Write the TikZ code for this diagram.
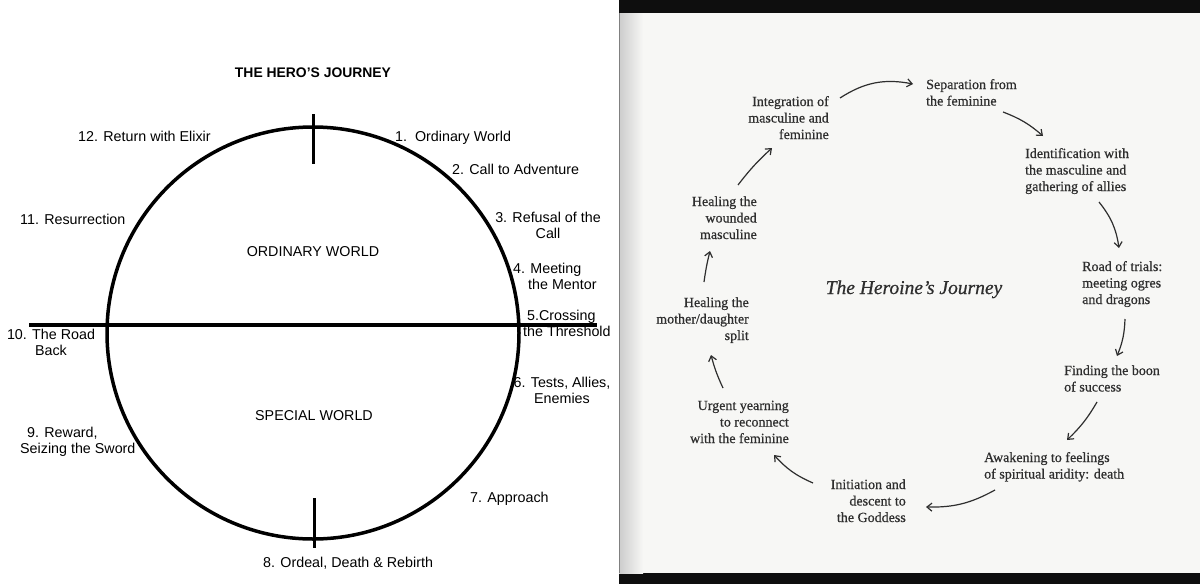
\documentclass[tikz,border=0pt]{standalone}
\usepackage{fontspec}
\setmainfont{Liberation Serif}[FakeBold=1.4]
\setsansfont{Liberation Sans}
\newfontfamily\bookfont[FakeBold=0.6]{Liberation Serif}
\usepackage{tikz}
\usepackage{xcolor}
\usetikzlibrary{arrows.meta}
\definecolor{pagebg}{HTML}{F7F7F5}
\definecolor{ink}{HTML}{2E2E2E}
\definecolor{scanblack}{HTML}{0E0E0E}

\begin{document}
\begin{tikzpicture}[x=1pt, y=-1pt,
    hero/.style={font=\sffamily\fontsize{14.3}{16}\selectfont, inner sep=0pt},
    heroine/.style={font=\bookfont\fontsize{14}{16.5}\selectfont, text=ink, inner sep=0pt},
    hand/.style={-{Straight Barb[length=5pt,width=8pt]}, draw=ink, line width=1.2pt}]
  \useasboundingbox (0,0) rectangle (1200,584);
  % --- Left panel: the hero's journey ----------------------------------
  \fill[white] (0,0) rectangle (619,584);
  \node[hero, font=\sffamily\bfseries\fontsize{13.9}{16}\selectfont, anchor=base] (title) at (313,77) {THE HERO’S JOURNEY};
  \draw[line width=3.5] (313,333) circle (206);
  \draw[line width=4] (29,325) -- (597,325);
  \draw[line width=3] (313,114) -- (313,164);
  \draw[line width=3] (314,498) -- (314,548);
  \node[hero, anchor=base] (ordw) at (313,256) {ORDINARY WORLD};
  \node[hero, anchor=base] (specw) at (314,420) {SPECIAL WORLD};
  % multi-line labels: the base anchor sits on the last line
  \node[hero, anchor=base west] (s1) at (395,141) {1.\ \ Ordinary World};
  \node[hero, anchor=base west] (s2) at (452,174) {2. Call to Adventure};
  \node[hero, anchor=base, align=center] (s3) at (548,238) {3. Refusal of the\\Call};
  \node[hero, anchor=base west, align=left] (s4) at (513,289) {4. Meeting\\\hspace*{15pt}the Mentor};
  \node[hero, anchor=base west, align=left] (s5) at (523,336) {\hspace*{4pt}5.Crossing\\the Threshold};
  \node[hero, anchor=base, align=center] (s6) at (562,403) {6. Tests, Allies,\\Enemies};
  \node[hero, anchor=base west] (s7) at (470,502) {7. Approach};
  \node[hero, anchor=base west] (s8) at (263,567) {8. Ordeal, Death \& Rebirth};
  \node[hero, anchor=base west, align=left] (s9) at (20,453) {\hspace*{7pt}9. Reward,\\Seizing the Sword};
  \node[hero, anchor=base, align=center] (s10) at (51,355) {10. The Road\\Back};
  \node[hero, anchor=base west] (s11) at (20,224) {11. Resurrection};
  \node[hero, anchor=base west] (s12) at (78,141) {12. Return with Elixir};

  % --- Right panel: the heroine's journey (scanned page) ---------------
  \fill[scanblack] (619,0) rectangle (1200,584);
  \fill[pagebg] (619,13) rectangle (1200,573);
  \shade[left color=black!20, right color=pagebg] (619,13) rectangle (643,573);
  \draw[black!50, line width=1] (619.5,13) -- (619.5,573);
  \node[heroine, font=\bookfont\itshape\fontsize{19.5}{22}\selectfont, anchor=base] (hj) at (914,294) {The Heroine’s Journey};
  \node[heroine, anchor=base west, align=left] (sep) at (926,105.5) {Separation from\\the feminine};
  \node[heroine, anchor=base west, align=left] (ident) at (1025,191) {Identification with\\the masculine and\\gathering of allies};
  \node[heroine, anchor=base west, align=left] (road) at (1082,304) {Road of trials:\\meeting ogres\\and dragons};
  \node[heroine, anchor=base west, align=left] (boon) at (1064,391.5) {Finding the boon\\of success};
  \node[heroine, anchor=base west, align=left] (awake) at (984,478.5) {Awakening to feelings\\of spiritual aridity: death};
  \node[heroine, anchor=base east, align=right] (init) at (906,522) {Initiation and\\descent to\\the Goddess};
  \node[heroine, anchor=base east, align=right] (urge) at (789,443) {Urgent yearning\\to reconnect\\with the feminine};
  \node[heroine, anchor=base east, align=right] (mdsplit) at (749,340) {Healing the\\mother/daughter\\split};
  \node[heroine, anchor=base east, align=right] (wound) at (757,239) {Healing the\\wounded\\masculine};
  \node[heroine, anchor=base east, align=right] (integ) at (829,139) {Integration of\\masculine and\\feminine};
  % arrow ends beside each block
  \coordinate (integ-out) at (840,98);    \coordinate (sep-in) at (913,84);
  \coordinate (sep-out) at (1003,112);    \coordinate (ident-in) at (1043,136);
  \coordinate (ident-out) at (1099,202);  \coordinate (road-in) at (1119,248);
  \coordinate (road-out) at (1125,319);   \coordinate (boon-in) at (1117,356);
  \coordinate (boon-out) at (1097,402);   \coordinate (awake-in) at (1067,440);
  \coordinate (awake-out) at (995,490);   \coordinate (init-in) at (926,507);
  \coordinate (init-out) at (813,483);    \coordinate (urge-in) at (774,455);
  \coordinate (urge-out) at (723,388);    \coordinate (mdsplit-in) at (711,355);
  \coordinate (mdsplit-out) at (704,282); \coordinate (wound-in) at (710,251);
  \coordinate (wound-out) at (738,185);   \coordinate (integ-in) at (772,148);
  \foreach \u/\v/\b in {integ/sep/22, sep/ident/10, ident/road/15, road/boon/10,
      boon/awake/8, awake/init/15, init/urge/12, urge/mdsplit/5,
      mdsplit/wound/3, wound/integ/5}
    \draw[hand] (\u-out) to[bend left=\b] (\v-in);
\end{tikzpicture}
\end{document}
